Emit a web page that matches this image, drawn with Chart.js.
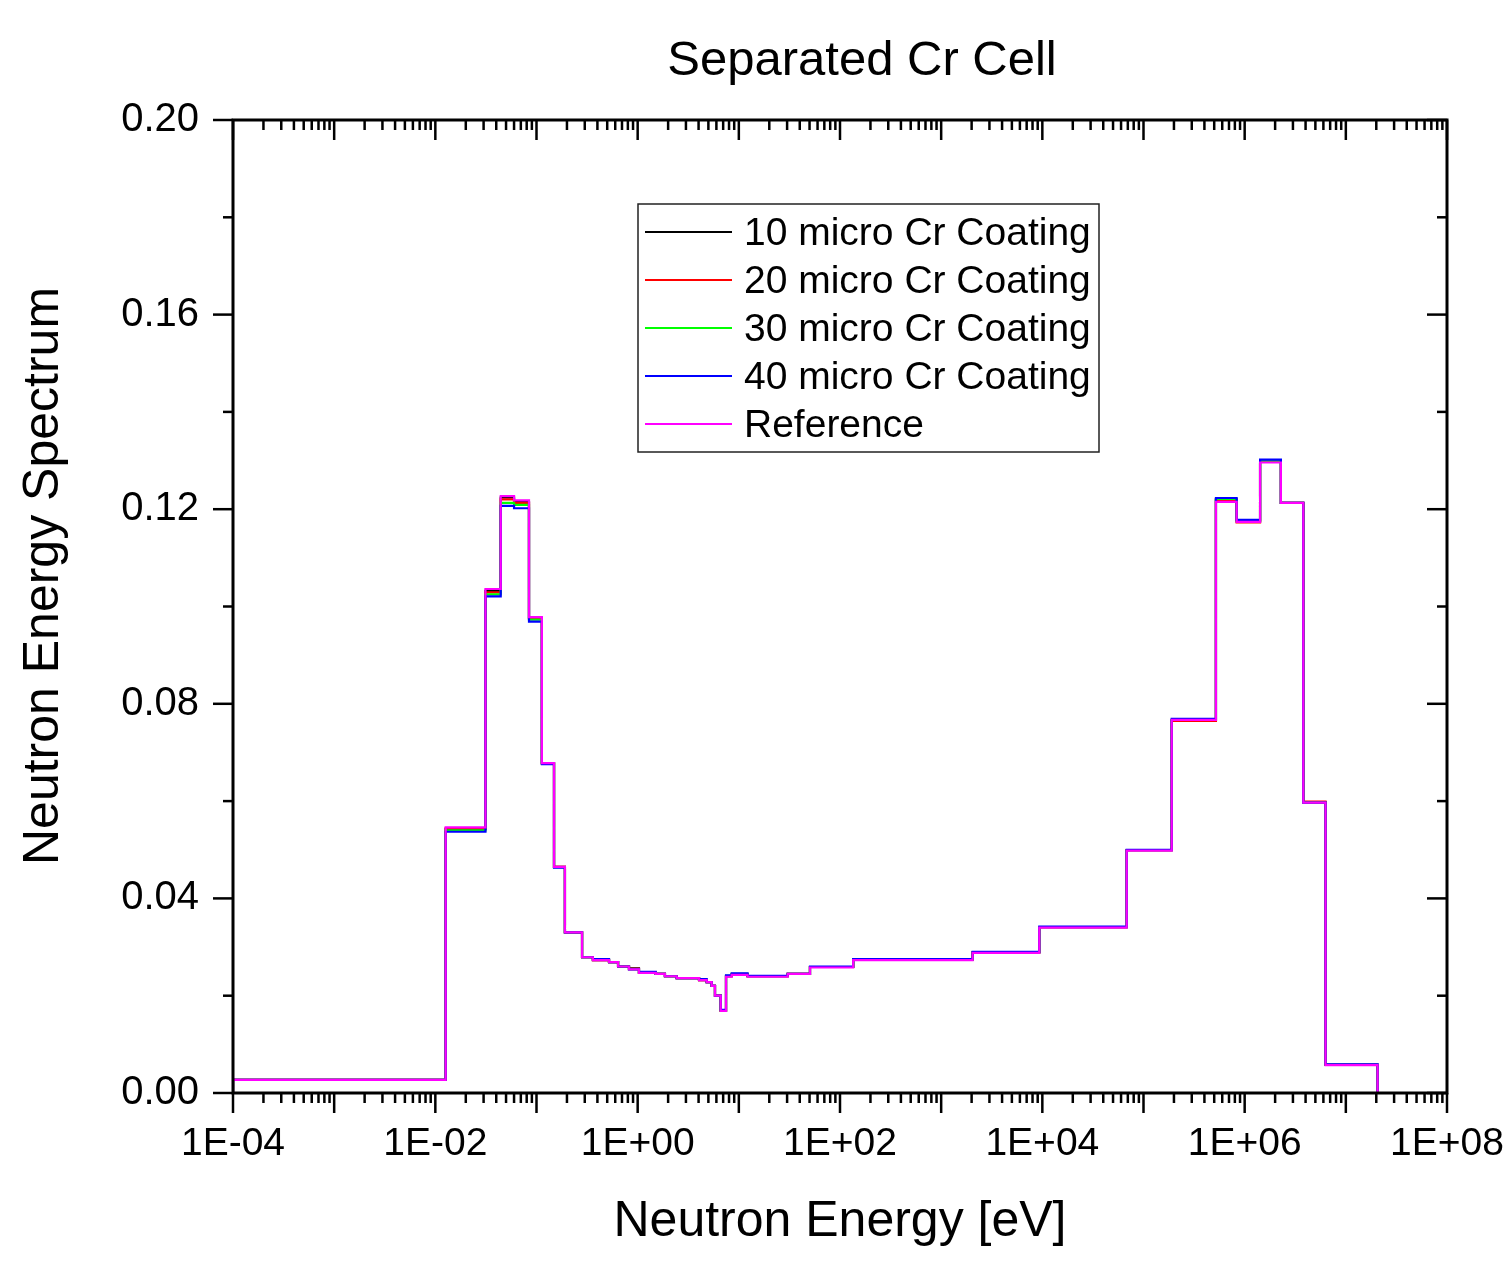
<!DOCTYPE html>
<html>
<head>
<meta charset="utf-8">
<title>Separated Cr Cell</title>
<script src="https://cdn.jsdelivr.net/npm/chart.js@4.4.1/dist/chart.umd.min.js"></script>
<style>
  html, body { margin: 0; padding: 0; background: #fff; }
</style>
</head>
<body>
<canvas id="chart" width="1509" height="1261"></canvas>
<script>
// group boundaries [eV], one more than values per series
const energyEdges = [1e-4, 0.01265, 0.0313, 0.0443, 0.060, 0.0843, 0.113, 0.149, 0.191, 0.282,
  0.361, 0.521, 0.640, 0.821, 1.03, 1.51, 1.86, 2.43, 4.04, 4.81,
  5.39, 5.81, 6.62, 7.47, 8.50, 12.2, 30.4, 50.5, 135, 2046,
  9330, 68200, 1.9e5, 5.2e5, 8.33e5, 1.42e6, 2.28e6, 3.8e6, 6.3e6, 2.06e7];

const coat10 = [0.0027, 0.0543, 0.1032, 0.1224, 0.1215, 0.0976, 0.0678, 0.0465, 0.0330,
  0.0279, 0.0273, 0.0269, 0.0260, 0.0256, 0.0247, 0.0245, 0.0240, 0.0236, 0.0232,
  0.0228, 0.0220, 0.0200, 0.0169, 0.0240, 0.0244, 0.0240, 0.0245, 0.0259, 0.0274,
  0.0289, 0.0341, 0.0499, 0.0766, 0.1220, 0.1175, 0.1298, 0.1213, 0.0598, 0.0058];
const coat20 = [0.0027, 0.0544, 0.1029, 0.1220, 0.1213, 0.0975, 0.0678, 0.0465, 0.0330,
  0.0279, 0.0273, 0.0269, 0.0260, 0.0255, 0.0247, 0.0245, 0.0240, 0.0236, 0.0232,
  0.0228, 0.0220, 0.0200, 0.0169, 0.0240, 0.0244, 0.0240, 0.0245, 0.0259, 0.0274,
  0.0289, 0.0341, 0.0499, 0.0765, 0.1218, 0.1173, 0.1298, 0.1213, 0.0599, 0.0058];
const coat30 = [0.0027, 0.0540, 0.1025, 0.1213, 0.1209, 0.0973, 0.0677, 0.0464, 0.0330,
  0.0279, 0.0274, 0.0269, 0.0260, 0.0254, 0.0248, 0.0245, 0.0240, 0.0236, 0.0233,
  0.0228, 0.0220, 0.0200, 0.0170, 0.0241, 0.0245, 0.0240, 0.0245, 0.0259, 0.0274,
  0.0289, 0.0341, 0.0499, 0.0767, 0.1221, 0.1176, 0.1300, 0.1213, 0.0597, 0.0058];
const coat40 = [0.0027, 0.0537, 0.1021, 0.1207, 0.1202, 0.0969, 0.0676, 0.0463, 0.0330,
  0.0279, 0.0275, 0.0269, 0.0260, 0.0254, 0.0249, 0.0245, 0.0240, 0.0236, 0.0234,
  0.0228, 0.0220, 0.0200, 0.0171, 0.0242, 0.0246, 0.0241, 0.0245, 0.0260, 0.0275,
  0.0290, 0.0342, 0.0500, 0.0769, 0.1223, 0.1178, 0.1302, 0.1213, 0.0597, 0.0059];
const reference = [0.0027, 0.0546, 0.1036, 0.1227, 0.1218, 0.0978, 0.0678, 0.0465, 0.0330,
  0.0279, 0.0273, 0.0269, 0.0260, 0.0254, 0.0247, 0.0245, 0.0240, 0.0236, 0.0232,
  0.0228, 0.0220, 0.0200, 0.0169, 0.0239, 0.0243, 0.0239, 0.0245, 0.0258, 0.0273,
  0.0288, 0.0340, 0.0498, 0.0767, 0.1215, 0.1174, 0.1296, 0.1213, 0.0597, 0.00575];

const seriesNames = ['10 micro Cr Coating', '20 micro Cr Coating', '30 micro Cr Coating', '40 micro Cr Coating', 'Reference'];
const seriesColors = ['#000000', '#ff0000', '#00ff00', '#0000ff', '#ff00ff'];
const xDecades = [-4, -3, -2, -1, 0, 1, 2, 3, 4, 5, 6, 7, 8];
const yMajor = [0, 0.04, 0.08, 0.12, 0.16, 0.20];
const yMinor = [0.02, 0.06, 0.10, 0.14, 0.18];

const FONT = '"Liberation Sans", Arial, sans-serif';

// histogram -> stepped points (value holds until next edge)
function steps(vals){
  const pts = [{ x: energyEdges[0], y: 0 }];
  vals.forEach((v, i) => pts.push({ x: energyEdges[i], y: v }));
  pts.push({ x: energyEdges[energyEdges.length - 1], y: 0 });
  return pts;
}

function expLabel(v){
  const k = Math.round(Math.log10(v));
  if (k % 2) return '';
  return '1E' + (k < 0 ? '-' : '+') + String(Math.abs(k)).padStart(2, '0');
}

const allSeries = [coat10, coat20, coat30, coat40, reference];

// frame, ticks, titles, legend box
const decor = {
  id: 'decor',
  afterDatasetsDraw(chart){
    const { ctx, chartArea: a, scales: { x, y } } = chart;
    ctx.save();
    ctx.strokeStyle = '#000';
    ctx.lineWidth = 3;
    ctx.strokeRect(a.left, a.top, a.right - a.left, a.bottom - a.top);
    ctx.lineWidth = 2.5;
    const line = (x1, y1, x2, y2) => { ctx.beginPath(); ctx.moveTo(x1, y1); ctx.lineTo(x2, y2); ctx.stroke(); };
    xDecades.forEach((k, i) => {
      const px = x.getPixelForValue(Math.pow(10, k));
      line(px, a.bottom, px, a.bottom + 20);
      line(px, a.top, px, a.top + 20);
      if (i === xDecades.length - 1) return;
      for (let m = 2; m <= 9; m++) {
        const p = x.getPixelForValue(m * Math.pow(10, k));
        line(p, a.bottom, p, a.bottom + 10);
        line(p, a.top, p, a.top + 10);
      }
    });
    yMajor.forEach(v => {
      const py = y.getPixelForValue(v);
      line(a.left - 20, py, a.left, py);
      line(a.right - 20, py, a.right, py);
    });
    yMinor.forEach(v => {
      const py = y.getPixelForValue(v);
      line(a.left - 10, py, a.left, py);
      line(a.right - 10, py, a.right, py);
    });
    ctx.restore();
  },
  afterDraw(chart){
    const { ctx, chartArea: a } = chart;
    ctx.save();
    ctx.fillStyle = '#000';
    ctx.textAlign = 'center';
    ctx.textBaseline = 'alphabetic';
    ctx.font = '49px ' + FONT;
    ctx.fillText('Separated Cr Cell', 862, 75);
    ctx.font = '50px ' + FONT;
    ctx.fillText('Neutron Energy [eV]', (a.left + a.right) / 2, 1236);
    ctx.translate(58, 576);
    ctx.rotate(-Math.PI / 2);
    ctx.fillText('Neutron Energy Spectrum', 0, 0);
    ctx.restore();

    // legend
    const bx = a.left + 405, by = a.top + 84, bw = 461, bh = 248;
    ctx.save();
    ctx.fillStyle = '#fff';
    ctx.fillRect(bx, by, bw, bh);
    ctx.strokeStyle = '#222';
    ctx.lineWidth = 1.5;
    ctx.strokeRect(bx, by, bw, bh);
    ctx.font = '39px ' + FONT;
    ctx.textBaseline = 'middle';
    ctx.textAlign = 'left';
    seriesNames.forEach((name, i) => {
      const ly = by + 28 + i * 48;
      ctx.strokeStyle = seriesColors[i];
      ctx.lineWidth = 2;
      ctx.beginPath(); ctx.moveTo(bx + 7, ly); ctx.lineTo(bx + 94, ly); ctx.stroke();
      ctx.fillStyle = '#000';
      ctx.fillText(name, bx + 106, ly + 2);
    });
    ctx.restore();
  }
};

new Chart(document.getElementById('chart'), {
  type: 'line',
  data: {
    datasets: allSeries.map((vals, i) => ({
      label: seriesNames[i],
      data: steps(vals),
      borderColor: seriesColors[i],
      borderWidth: 2.2,
      pointRadius: 0,
      stepped: 'before',
      fill: false,
      order: allSeries.length - i   // reference ends up on top
    }))
  },
  options: {
    responsive: false,
    animation: false,
    devicePixelRatio: 1,
    layout: { padding: { top: 120, right: 62, left: 0, bottom: 0 } },
    plugins: { legend: { display: false }, title: { display: false }, tooltip: { enabled: false } },
    scales: {
      x: {
        type: 'logarithmic', min: 1e-4, max: 1e8,
        afterBuildTicks: s => { s.ticks = xDecades.map(k => ({ value: Math.pow(10, k) })); },
        afterFit: s => { s.height = 168; s.paddingLeft = 0; s.paddingRight = 0; },
        grid: { display: false, drawTicks: false },
        border: { display: false },
        ticks: { autoSkip: false, maxRotation: 0, padding: 28, color: '#000', font: { family: FONT, size: 39 }, callback: v => expLabel(v) }
      },
      y: {
        min: 0, max: 0.2,
        afterBuildTicks: s => { s.ticks = yMajor.map(v => ({ value: v })); },
        afterFit: s => { s.width = 233; s.paddingTop = 0; s.paddingBottom = 0; },
        grid: { display: false, drawTicks: false },
        border: { display: false },
        ticks: { padding: 34, color: '#000', font: { family: FONT, size: 40 }, callback: v => v.toFixed(2) }
      }
    }
  },
  plugins: [decor]
});
</script>
</body>
</html>
